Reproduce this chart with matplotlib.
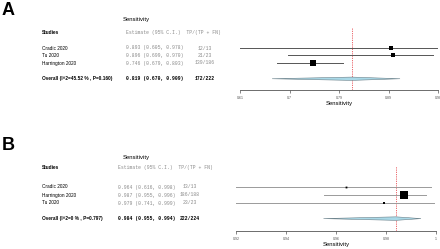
import matplotlib
matplotlib.use("Agg")
import matplotlib.pyplot as plt
import matplotlib.transforms as mtransforms
import numpy as np

W, H = 440, 249

# ---- data ----
A_STUDIES = ["Cradic 2020", "Tu 2020", "Harrington 2020"]
A_EST = [0.893, 0.896, 0.746]
A_LO = [0.605, 0.699, 0.679]
A_HI = [0.978, 0.970, 0.803]
A_TP = ["12/13", "21/23", "139/186"]
A_WEIGHT = [18, 26, 56]
A_OVERALL = (0.819, 0.670, 0.909)
A_OVERALL_TP = "172/222"
A_OVERALL_LABEL = "Overall (I^2=45.52 % , P=0.160)"
A_TICKLABELS = ["0.61", "0.7", "0.79", "0.89", "0.98"]
A_XLIM = (0.61, 0.98)

B_STUDIES = ["Cradic 2020", "Harrington 2020", "Tu 2020"]
B_EST = [0.964, 0.987, 0.979]
B_LO = [0.616, 0.955, 0.741]
B_HI = [0.998, 0.996, 0.999]
B_TP = ["13/13", "186/188", "23/23"]
B_WEIGHT = [4, 88, 8]
B_OVERALL = (0.984, 0.955, 0.994)
B_OVERALL_TP = "222/224"
B_OVERALL_LABEL = "Overall (I^2=0 % , P=0.797)"
B_TICKLABELS = ["0.92", "0.94", "0.96", "0.98", "1"]
B_XLIM = (0.92, 1.0)

SANS = "Liberation Sans"
MONO = "Liberation Mono"
GREY_TXT = "#8a8a8a"


def px(x, y):
    return x / W, 1 - y / H


def draw_panel(fig, letter, spec):
    left, right, row0, step, top_rows, bottom_rows = spec["geom"]
    top_px = row0 + top_rows * step
    bot_px = row0 + bottom_rows * step
    ax = fig.add_axes([left / W, 1 - bot_px / H, (right - left) / W, (bot_px - top_px) / H])
    ax.set_xlim(*spec["xlim"])
    ax.set_ylim(bottom_rows, top_rows)
    ax.patch.set_alpha(0)
    for s in ("top", "right", "left"):
        ax.spines[s].set_visible(False)
    ax.spines["bottom"].set_color("#555555")
    ax.spines["bottom"].set_linewidth(0.6)
    ax.set_yticks([])
    ticks = np.linspace(spec["xlim"][0], spec["xlim"][1], len(spec["ticklabels"]))
    ax.set_xticks(ticks)
    ax.set_xticklabels(spec["ticklabels"], fontsize=2.6, family=SANS, color="#444444")
    ax.tick_params(axis="x", length=2, width=0.5, pad=2.5, colors="#555555")
    ax.set_xlabel("Sensitivity", fontsize=4.2, family=SANS, labelpad=0.2)

    rows = np.arange(len(spec["studies"]))
    ov_row = spec["ov_row"]
    est, lo, hi = spec["overall"]

    ax.axvline(est, color="#e8555a", lw=0.6, ls=(0, (1.5, 1.2)), zorder=1)
    for r, e, l, h, w in zip(rows, spec["est"], spec["lo"], spec["hi"], spec["weight"]):
        ax.plot([l, h], [r, r], color=spec["line_c"], lw=0.7, zorder=2)
        ax.plot(e, r, marker="s", color="black", ms=0.65 * np.sqrt(w), mew=0, zorder=3)
    dh = 0.22
    ax.fill([lo, est, hi, est], [ov_row, ov_row - dh, ov_row, ov_row + dh],
            facecolor="#a9d9e8", edgecolor="#6a7f88", lw=0.4, zorder=3)

    # text columns
    tr = mtransforms.blended_transform_factory(fig.transFigure, ax.transData)
    xs_name, xs_est, xs_tp = spec["cols"]
    hdr = spec["hdr_row"]
    ax.text(xs_name / W, hdr, "Studies", transform=tr, fontsize=3.4, family=SANS,
            weight="bold", va="center")
    ax.text(xs_est / W, hdr, "Estimate (95% C.I.)  TP/(TP + FN)", transform=tr,
            fontsize=3.4, family=MONO, color=GREY_TXT, va="center")
    for r, name, e, l, h, tp in zip(rows, spec["studies"], spec["est"], spec["lo"],
                                    spec["hi"], spec["tp"]):
        ax.text(xs_name / W, r, name, transform=tr, fontsize=3.4, family=SANS, va="center")
        ax.text(xs_est / W, r, f"{e:.3f} ({l:.3f}, {h:.3f})", transform=tr,
                fontsize=3.4, family=MONO, color=GREY_TXT, va="center")
        ax.text(xs_tp / W, r, tp, transform=tr, fontsize=3.4, family=MONO,
                color=GREY_TXT, va="center", ha="center")
    ax.text(xs_name / W, ov_row, spec["ov_label"], transform=tr, fontsize=3.4,
            family=SANS, weight="bold", va="center")
    ax.text(xs_est / W, ov_row, f"{est:.3f} ({lo:.3f}, {hi:.3f})", transform=tr,
            fontsize=3.4, family=MONO, weight="bold", va="center")
    ax.text(xs_tp / W, ov_row, spec["ov_tp"], transform=tr, fontsize=3.4, family=MONO,
            weight="bold", va="center", ha="center")

    tx, ty = px(*spec["title_xy"])
    fig.text(tx, ty, "Sensitivity", fontsize=4.2, family=SANS, ha="center", va="center")
    lx, ly = px(*spec["letter_xy"])
    fig.text(lx, ly, letter, fontsize=13, family=SANS, weight="bold", va="center")
    return ax


fig = plt.figure(figsize=(W / 100, H / 100), dpi=100)
fig.patch.set_facecolor("white")

draw_panel(fig, "A", dict(
    geom=(240, 438, 48, 7.5, -2.8, 5.6), xlim=A_XLIM, ticklabels=A_TICKLABELS,
    studies=A_STUDIES, est=A_EST, lo=A_LO, hi=A_HI, tp=A_TP, weight=A_WEIGHT,
    overall=A_OVERALL, ov_tp=A_OVERALL_TP, ov_label=A_OVERALL_LABEL,
    ov_row=4.1, hdr_row=-2.1, cols=(42, 126, 205), line_c="#555555",
    title_xy=(136, 20), letter_xy=(2, 10),
))
draw_panel(fig, "B", dict(
    geom=(236, 436, 187, 8.0, -2.6, 5.5), xlim=B_XLIM, ticklabels=B_TICKLABELS,
    studies=B_STUDIES, est=B_EST, lo=B_LO, hi=B_HI, tp=B_TP, weight=B_WEIGHT,
    overall=B_OVERALL, ov_tp=B_OVERALL_TP, ov_label=B_OVERALL_LABEL,
    ov_row=3.95, hdr_row=-2.4, cols=(42, 118, 190), line_c="#9a9a9a",
    title_xy=(136, 158), letter_xy=(2, 145),
))

fig.savefig("out.png", dpi=100, facecolor="white")
